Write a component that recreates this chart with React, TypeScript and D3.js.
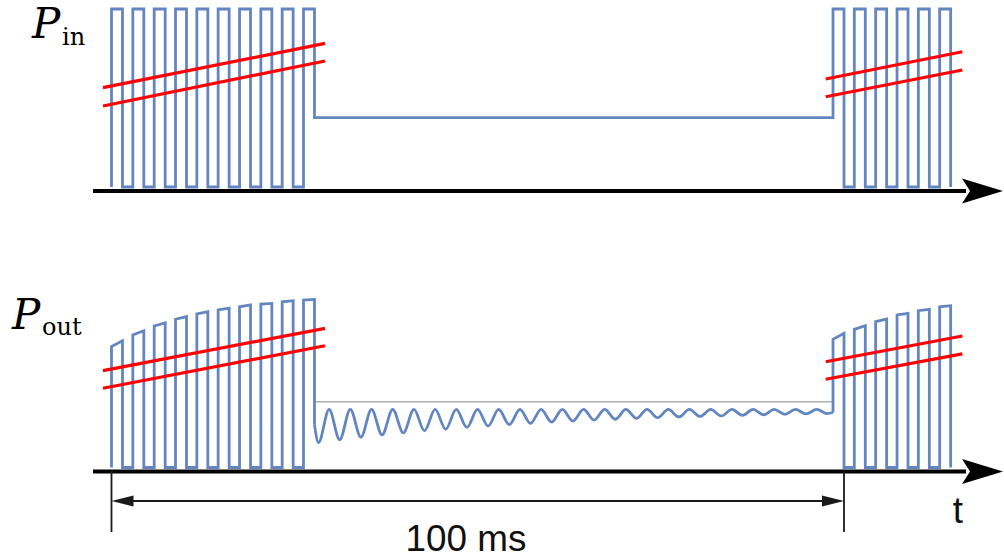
import React from "react";
import * as d3 from "d3";

// time in ms, power normalised to pulse peak = 1
const pulseWidth = 1.5;
const leftStarts = [0, 2.91, 5.83, 8.74, 11.65, 14.56, 17.48, 20.39, 23.3, 26.21];
const rightStarts = [98.5, 101.41, 104.32, 107.24, 110.15, 113.06];
const cwLevel = 0.39;

// P_out pulse tops [at rise, at fall]
const outTopsLeft = [
  [0.679, 0.712], [0.744, 0.768], [0.795, 0.813], [0.833, 0.848], [0.863, 0.875],
  [0.885, 0.895], [0.903, 0.913], [0.918, 0.922], [0.931, 0.937], [0.941, 0.944],
];
const outTopsRight = [
  [0.72, 0.754], [0.776, 0.797], [0.819, 0.834], [0.857, 0.866], [0.881, 0.889], [0.903, 0.909],
];

// ringing between the bursts
const troughTimes = [28.26, 31.15, 34.05, 36.94, 39.84, 42.73, 45.62, 48.52, 51.41, 54.31, 57.2, 60.09,
  62.99, 65.88, 68.78, 71.67, 74.56, 77.46, 80.35, 83.25, 86.14, 89.03, 91.93, 94.82, 97.72];
const troughValues = [0.14, 0.156, 0.17, 0.183, 0.194, 0.206, 0.215, 0.225, 0.233, 0.241, 0.248, 0.255,
  0.261, 0.266, 0.271, 0.276, 0.28, 0.284, 0.287, 0.29, 0.293, 0.296, 0.299, 0.301, 0.303];
const crestTimes = [29.71, 32.6, 35.5, 38.39, 41.29, 44.18, 47.07, 49.97, 52.86, 55.76, 58.65, 61.54,
  64.44, 67.33, 70.23, 73.12, 76.01, 78.91, 81.8, 84.7, 87.59, 90.48, 93.38, 96.27];
const crestValue = 0.326;
const ringStart = 0.24;
const ringEnd = 0.309;
const cwOutLevel = 0.37;

// break marks: [t0, v0, t1, v1]
const breaksTop = [
  [-1.16, 0.558, 29.15, 0.807], [-1.16, 0.455, 29.15, 0.708],
  [97.5, 0.607, 116.15, 0.76], [97.5, 0.507, 116.15, 0.657],
];
const breaksBottom = [
  [-1.16, 0.544, 29.15, 0.782], [-1.16, 0.445, 29.15, 0.684],
  [97.5, 0.594, 116.15, 0.739], [97.5, 0.496, 116.15, 0.638],
];

const span = [0, 100];
const spanLabel = "100 ms";

const BLUE = "#6386c0";
const RED = "#ff0000";

function train(starts: number[], tops: number[][], startLevel: number, endLevel: number) {
  const pts: [number, number][] = [];
  starts.forEach((s, i) => {
    pts.push([s, i === 0 ? startLevel : 0]);
    pts.push([s, tops[i][0]]);
    pts.push([s + pulseWidth, tops[i][1]]);
    pts.push([s + pulseWidth, i === starts.length - 1 ? endLevel : 0]);
  });
  return pts;
}

export default function App() {
  const x = d3.scaleLinear().domain([0, 100]).range([111.5, 844]);
  const yTop = d3.scaleLinear().domain([0, 1]).range([187, 9]);
  const yBot = d3.scaleLinear().domain([0, 1]).range([467.5, 289.5]);

  const ones = leftStarts.map(() => [1, 1]);
  const onesR = rightStarts.map(() => [1, 1]);
  const topPts = [...train(leftStarts, ones, 0, cwLevel), ...train(rightStarts, onesR, cwLevel, 0)];
  const lineTop = d3.line<[number, number]>().x(d => x(d[0])).y(d => yTop(d[1]));
  const lineBot = d3.line<[number, number]>().x(d => x(d[0])).y(d => yBot(d[1]));
  const ringLine = d3.line<[number, number]>().x(d => x(d[0])).y(d => yBot(d[1])).curve(d3.curveMonotoneX);

  const gapStart = leftStarts[leftStarts.length - 1] + pulseWidth;
  const gapEnd = rightStarts[0];
  const ring: [number, number][] = [[gapStart, ringStart]];
  troughTimes.forEach((t, i) => {
    ring.push([t, troughValues[i]]);
    if (i < crestTimes.length) ring.push([crestTimes[i], crestValue]);
  });
  ring.push([gapEnd, ringEnd]);

  const botLeft = train(leftStarts, outTopsLeft, 0, ringStart);
  const botRight = train(rightStarts, outTopsRight, ringEnd, 0);

  const axisX0 = 93;
  const axisX1 = 966;
  const axes = [191, 471.5];

  return (
    <svg width={1004} height={558} style={{ position: "absolute", left: 0, top: 0, background: "#fff" }}>
      {/* P_in */}
      <path d={lineTop(topPts) || ""} fill="none" stroke={BLUE} strokeWidth={2.8} />
      {breaksTop.map((b, i) => (
        <line key={"bt" + i} x1={x(b[0])} y1={yTop(b[1])} x2={x(b[2])} y2={yTop(b[3])} stroke={RED} strokeWidth={3.2} />
      ))}

      {/* P_out */}
      <line x1={x(gapStart)} x2={x(gapEnd)} y1={yBot(cwOutLevel)} y2={yBot(cwOutLevel)} stroke="#b0b0b0" strokeWidth={1.5} />
      <path d={lineBot(botLeft) || ""} fill="none" stroke={BLUE} strokeWidth={2.8} />
      <path d={ringLine(ring) || ""} fill="none" stroke={BLUE} strokeWidth={2.8} />
      <path d={lineBot(botRight) || ""} fill="none" stroke={BLUE} strokeWidth={2.8} />
      {breaksBottom.map((b, i) => (
        <line key={"bb" + i} x1={x(b[0])} y1={yBot(b[1])} x2={x(b[2])} y2={yBot(b[3])} stroke={RED} strokeWidth={3.2} />
      ))}

      {/* time axes */}
      {axes.map((ay, i) => (
        <g key={"ax" + i}>
          <line x1={axisX0} x2={axisX1} y1={ay} y2={ay} stroke="#000" strokeWidth={4} />
          <path d={`M1003,${ay} L962,${ay - 12.5} L970,${ay} L962,${ay + 12.5} Z`} fill="#000" />
        </g>
      ))}

      {/* 100 ms dimension */}
      <g stroke="#1a1a1a" strokeWidth={1.8}>
        <line x1={x(span[0])} x2={x(span[0])} y1={471} y2={532} />
        <line x1={x(span[1])} x2={x(span[1])} y1={471} y2={532} />
        <line x1={x(span[0]) + 10} x2={x(span[1]) - 10} y1={501} y2={501} />
      </g>
      <path d={`M${x(span[0])},501 L${x(span[0]) + 22},495.5 L${x(span[0]) + 22},506.5 Z`} fill="#1a1a1a" />
      <path d={`M${x(span[1])},501 L${x(span[1]) - 22},495.5 L${x(span[1]) - 22},506.5 Z`} fill="#1a1a1a" />
      <text x={466} y={551} textAnchor="middle" fontFamily="Liberation Sans, Arial, sans-serif" fontSize={36}
        textLength={121} lengthAdjust="spacingAndGlyphs" fill="#111">{spanLabel}</text>
      <text x={958} y={523} textAnchor="middle" fontFamily="Liberation Sans, Arial, sans-serif" fontSize={37}
        fill="#111">t</text>

      {/* labels */}
      <text x={32} y={38} fontFamily="DejaVu Serif, serif" fontStyle="italic" fontSize={42} fill="#000">P</text>
      <text x={62} y={44.5} fontFamily="DejaVu Serif, serif" fontSize={24} fill="#000">in</text>
      <text x={12} y={328.5} fontFamily="DejaVu Serif, serif" fontStyle="italic" fontSize={42} fill="#000">P</text>
      <text x={42} y={335} fontFamily="DejaVu Serif, serif" fontSize={24} fill="#000">out</text>
    </svg>
  );
}
